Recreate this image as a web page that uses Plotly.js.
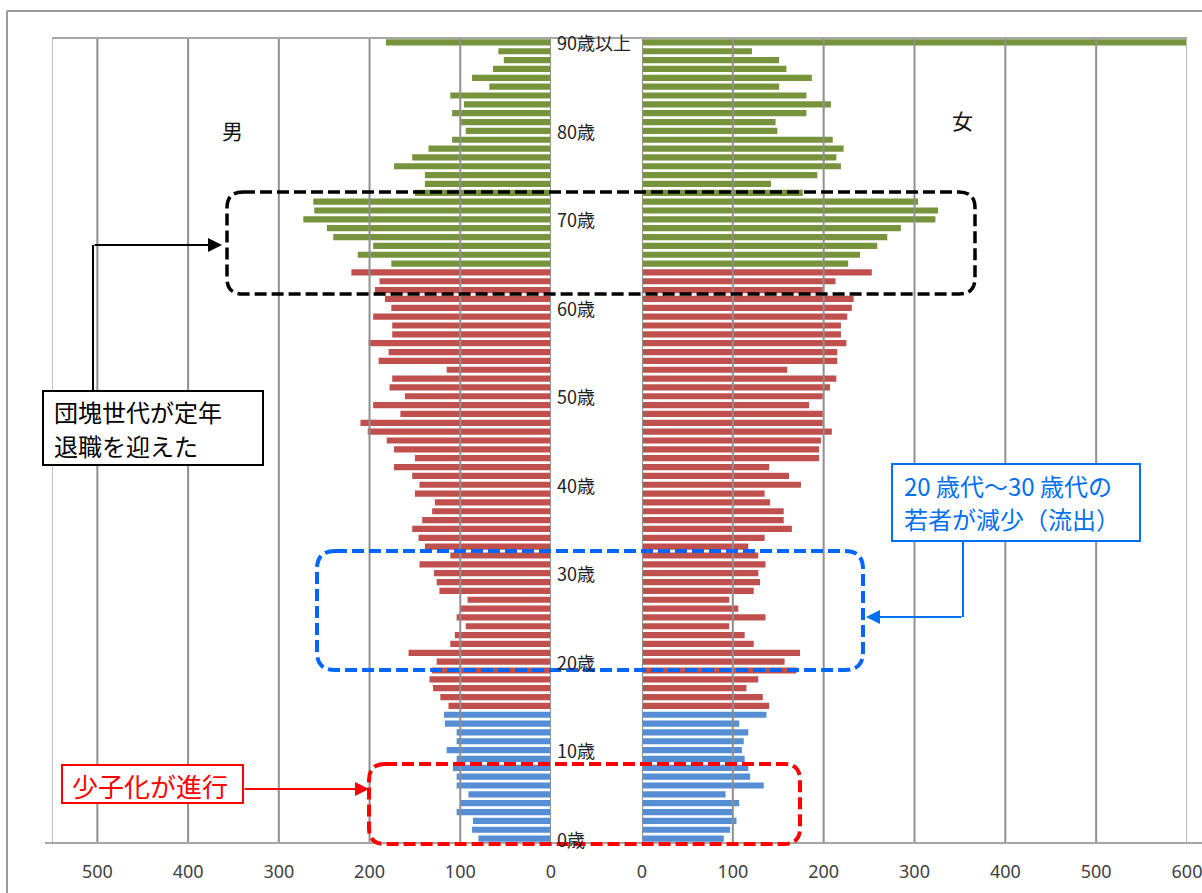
<!DOCTYPE html>
<html>
<head>
<meta charset="utf-8">
<script src="https://cdn.plot.ly/plotly-3.0.1.min.js"></script>
<style>html,body{margin:0;padding:0;background:#fff;}#chart{width:1202px;height:893px;}</style>
</head>
<body>
<div id="chart"></div>
<script>
// Ages 0..90 (90 = 90歳以上)
const ages = Array.from({length: 91}, (_, i) => i);
const ageLabels = ["0歳", "10歳", "20歳", "30歳", "40歳", "50歳", "60歳", "70歳", "80歳", "90歳以上"];
const ageLabelPos = [0, 10, 20, 30, 40, 50, 60, 70, 80, 90];

// 男 (age 0 .. 90)
const male = [80, 87, 86, 104, 100, 91, 104, 104, 108, 104,
  115, 104, 104, 117, 118, 113, 122, 130, 134, 131,
  126, 157, 111, 106, 94, 104, 100, 92, 123, 126,
  129, 145, 111, 139, 146, 153, 142, 131, 128, 150,
  145, 153, 173, 150, 173, 181, 202, 210, 166, 196,
  161, 178, 175, 115, 190, 179, 201, 175, 175, 196,
  176, 183, 194, 189, 220, 176, 213, 196, 240, 247,
  273, 261, 262, 150, 139, 139, 173, 153, 135, 109,
  94, 100, 109, 96, 111, 68, 87, 64, 52, 58,
  182];

// 女 (age 0 .. 90)
const female = [90, 97, 104, 100, 107, 92, 134, 119, 117, 113,
  110, 112, 117, 107, 137, 140, 133, 115, 128, 170,
  157, 174, 123, 113, 96, 136, 106, 96, 123, 130,
  128, 136, 128, 117, 135, 165, 156, 156, 141, 135,
  175, 162, 140, 195, 195, 197, 209, 199, 199, 184,
  199, 207, 214, 160, 215, 215, 225, 219, 219, 226,
  231, 233, 199, 213, 253, 227, 240, 259, 270, 285,
  323, 326, 304, 177, 142, 193, 219, 214, 222, 210,
  149, 147, 181, 208, 181, 151, 187, 159, 151, 121,
  640];

const leftTicks = [0, 100, 200, 300, 400, 500];
const rightTicks = [0, 100, 200, 300, 400, 500, 600];

// ---- styling helpers ----
const W = 1202, H = 893;
const px = x => x / W;
const py = y => 1 - y / H;
const GREEN = '#77933C', RED = '#C0504D', BLUE = '#558ED5';
const colorFor = a => a < 15 ? BLUE : (a < 65 ? RED : GREEN);
const colors = ages.map(colorFor);
const FONT = '"Noto Sans CJK JP", "Noto Sans", sans-serif';

const plotTop = 38, plotBottom = 843;

const traces = [
  {type: 'bar', orientation: 'h', y: ages, x: male, xaxis: 'x', yaxis: 'y',
   marker: {color: colors}, width: 0.7, hoverinfo: 'x+y'},
  {type: 'bar', orientation: 'h', y: ages, x: female, xaxis: 'x2', yaxis: 'y',
   marker: {color: colors}, width: 0.7, hoverinfo: 'x+y'}
];

const shapes = [];
const GRID = '#8f8f8f';
// vertical gridlines (above bars, as in the original)
leftTicks.forEach(v => shapes.push({type: 'line', xref: 'x', yref: 'paper', x0: v, x1: v,
  y0: py(plotBottom), y1: py(plotTop), line: {color: GRID, width: 2}, layer: 'above'}));
shapes.push({type: 'line', xref: 'x', yref: 'paper', x0: 550, x1: 550,
  y0: py(plotBottom), y1: py(plotTop), line: {color: '#bdbdbd', width: 2}, layer: 'above'});
rightTicks.forEach(v => shapes.push({type: 'line', xref: 'x2', yref: 'paper', x0: v, x1: v,
  y0: py(plotBottom), y1: py(plotTop), line: {color: v === 600 ? '#bdbdbd' : GRID, width: 2}, layer: 'above'}));
// top and bottom lines
shapes.push({type: 'line', xref: 'paper', yref: 'paper', x0: px(52), x1: px(1187), y0: py(plotTop), y1: py(plotTop),
  line: {color: '#a6a6a6', width: 2}, layer: 'above'});
shapes.push({type: 'line', xref: 'paper', yref: 'paper', x0: px(45), x1: px(1202), y0: py(plotBottom), y1: py(plotBottom),
  line: {color: '#a6a6a6', width: 2}, layer: 'above'});
// outer frame
shapes.push({type: 'line', xref: 'paper', yref: 'paper', x0: px(7), x1: px(1202), y0: py(11), y1: py(11),
  line: {color: '#9a9a9a', width: 2}, layer: 'above'});
shapes.push({type: 'line', xref: 'paper', yref: 'paper', x0: px(7), x1: px(7), y0: py(11), y1: py(893),
  line: {color: '#9a9a9a', width: 2}, layer: 'above'});

function roundRect(x0, y0, x1, y1, r) {
  const P = (x, y) => px(x).toFixed(5) + ',' + py(y).toFixed(5);
  return 'M' + P(x0 + r, y0) + ' L' + P(x1 - r, y0) + ' Q' + P(x1, y0) + ' ' + P(x1, y0 + r) +
    ' L' + P(x1, y1 - r) + ' Q' + P(x1, y1) + ' ' + P(x1 - r, y1) +
    ' L' + P(x0 + r, y1) + ' Q' + P(x0, y1) + ' ' + P(x0, y1 - r) +
    ' L' + P(x0, y0 + r) + ' Q' + P(x0, y0) + ' ' + P(x0 + r, y0) + ' Z';
}
// dashed highlight regions
shapes.push({type: 'path', xref: 'paper', yref: 'paper', path: roundRect(227, 192, 975, 294, 16),
  line: {color: '#000000', width: 3.5, dash: '12px,5px'}, fillcolor: 'rgba(0,0,0,0)', layer: 'above'});
shapes.push({type: 'path', xref: 'paper', yref: 'paper', path: roundRect(317, 551, 863, 670, 18),
  line: {color: '#0066FF', width: 4, dash: '12px,5px'}, fillcolor: 'rgba(0,0,0,0)', layer: 'above'});
shapes.push({type: 'path', xref: 'paper', yref: 'paper', path: roundRect(369, 764, 800, 844, 16),
  line: {color: '#FF0000', width: 4, dash: '12px,5px'}, fillcolor: 'rgba(0,0,0,0)', layer: 'above'});

// callout boxes
shapes.push({type: 'rect', xref: 'paper', yref: 'paper', x0: px(43), x1: px(263), y0: py(391), y1: py(465),
  line: {color: '#000000', width: 2}, fillcolor: '#ffffff', layer: 'above'});
shapes.push({type: 'rect', xref: 'paper', yref: 'paper', x0: px(892), x1: px(1140), y0: py(464), y1: py(541),
  line: {color: '#0070F0', width: 2}, fillcolor: '#ffffff', layer: 'above'});
shapes.push({type: 'rect', xref: 'paper', yref: 'paper', x0: px(62), x1: px(243), y0: py(765), y1: py(803),
  line: {color: '#FF0000', width: 2}, fillcolor: '#ffffff', layer: 'above'});
// connector segments
shapes.push({type: 'line', xref: 'paper', yref: 'paper', x0: px(93), x1: px(93), y0: py(391), y1: py(245),
  line: {color: '#000000', width: 2}, layer: 'above'});
shapes.push({type: 'line', xref: 'paper', yref: 'paper', x0: px(963), x1: px(963), y0: py(541), y1: py(617),
  line: {color: '#0070F0', width: 2}, layer: 'above'});

const annotations = [];
ageLabels.forEach((t, i) => annotations.push({xref: 'paper', yref: 'y', x: px(555), y: ageLabelPos[i],
  xanchor: 'left', yanchor: 'middle', text: t, showarrow: false,
  font: {family: FONT, size: 18, color: '#222222'}}));
annotations.push({xref: 'paper', yref: 'paper', x: px(232), y: py(130), xanchor: 'center', yanchor: 'middle',
  text: '男', showarrow: false, font: {family: FONT, size: 21, color: '#111'}});
annotations.push({xref: 'paper', yref: 'paper', x: px(962), y: py(120), xanchor: 'center', yanchor: 'middle',
  text: '女', showarrow: false, font: {family: FONT, size: 21, color: '#111'}});
annotations.push({xref: 'paper', yref: 'paper', x: px(52), y: py(411), xanchor: 'left', yanchor: 'middle', align: 'left',
  text: '団塊世代が定年', showarrow: false, font: {family: FONT, size: 24, color: '#000'}});
annotations.push({xref: 'paper', yref: 'paper', x: px(52), y: py(445), xanchor: 'left', yanchor: 'middle', align: 'left',
  text: '退職を迎えた', showarrow: false, font: {family: FONT, size: 24, color: '#000'}});
annotations.push({xref: 'paper', yref: 'paper', x: px(902), y: py(486), xanchor: 'left', yanchor: 'middle', align: 'left',
  text: '20 歳代～30 歳代の', showarrow: false, font: {family: FONT, size: 24, color: '#0070F0'}});
annotations.push({xref: 'paper', yref: 'paper', x: px(902), y: py(518), xanchor: 'left', yanchor: 'middle', align: 'left',
  text: '若者が減少（流出）', showarrow: false, font: {family: FONT, size: 24, color: '#0070F0'}});
annotations.push({xref: 'paper', yref: 'paper', x: px(70), y: py(785), xanchor: 'left', yanchor: 'middle', align: 'left',
  text: '少子化が進行', showarrow: false, font: {family: FONT, size: 26, color: '#FF0000'}});
// arrows
annotations.push({xref: 'paper', yref: 'paper', x: px(222), y: py(245), ax: 93 - 222, ay: 0, text: '',
  showarrow: true, arrowhead: 2, arrowsize: 1.4, arrowwidth: 2, arrowcolor: '#000', standoff: 0});
annotations.push({xref: 'paper', yref: 'paper', x: px(866), y: py(617), ax: 963 - 866, ay: 0, text: '',
  showarrow: true, arrowhead: 2, arrowsize: 1.4, arrowwidth: 2, arrowcolor: '#0070F0', standoff: 0});
annotations.push({xref: 'paper', yref: 'paper', x: px(369), y: py(789), ax: 243 - 369, ay: 0, text: '',
  showarrow: true, arrowhead: 2, arrowsize: 1.4, arrowwidth: 2, arrowcolor: '#FF0000', standoff: 0});

const tickFont = {family: '"Noto Sans", sans-serif', size: 18, color: '#404040'};
const layout = {
  width: W, height: H,
  margin: {l: 0, r: 0, t: 0, b: 0, pad: 0},
  paper_bgcolor: '#ffffff', plot_bgcolor: 'rgba(0,0,0,0)',
  showlegend: false, bargap: 0.3,
  xaxis: {domain: [px(52), px(551)], range: [550, 0], tickvals: leftTicks, ticktext: leftTicks.map(String),
    showgrid: false, zeroline: false, showline: false, ticks: 'outside', ticklen: 12,
    tickcolor: 'rgba(0,0,0,0)', tickfont: tickFont, anchor: 'y', fixedrange: true, ticklabeloverflow: 'allow'},
  xaxis2: {domain: [px(642), px(1187)], range: [0, 600], tickvals: rightTicks, ticktext: rightTicks.map(String),
    showgrid: false, zeroline: false, showline: false, ticks: 'outside', ticklen: 12,
    tickcolor: 'rgba(0,0,0,0)', tickfont: tickFont, anchor: 'y', fixedrange: true, ticklabeloverflow: 'allow'},
  yaxis: {domain: [py(plotBottom), py(plotTop)], range: [-0.5, 90.5], showticklabels: false,
    showgrid: false, zeroline: false, showline: false, ticks: '', anchor: 'x', fixedrange: true},
  shapes: shapes,
  annotations: annotations
};

Plotly.newPlot('chart', traces, layout, {displayModeBar: false, staticPlot: true});
</script>
</body>
</html>
